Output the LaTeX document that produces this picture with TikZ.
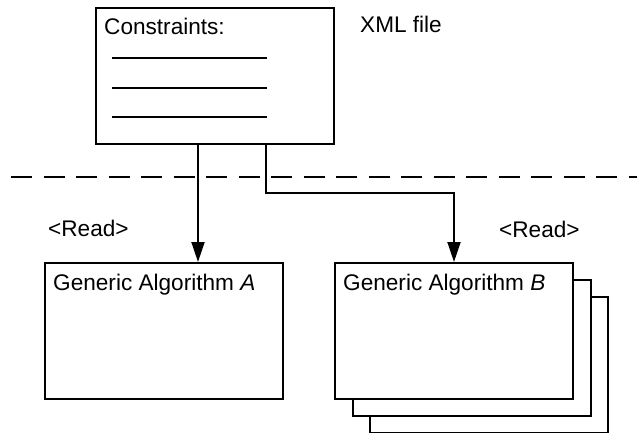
\documentclass[tikz,border=0pt]{standalone}
\usepackage{fontspec}
\setmainfont{Liberation Sans}
\usetikzlibrary{arrows.meta}
\begin{document}
\begin{tikzpicture}[x=1pt,y=-1pt,
  box/.style={draw, line width=1.9pt, fill=white, inner sep=0pt, anchor=north west},
  lbl/.style={inner sep=0pt, anchor=base west, font=\fontsize{22.6}{26}\selectfont},
  rule/.style={line width=1.4pt},
  conn/.style={line width=1.9pt, -{Triangle[length=20pt,width=13pt]}},
  sep/.style={line width=1.2pt, dash pattern=on 21pt off 11.5pt}]
\useasboundingbox (0,0) rectangle (637,433);
% top box
\node[box, minimum width=238pt, minimum height=136pt] (cons) at (95,7) {};
\node[lbl] (constxt) at (104,35) {Constraints:};
\node[lbl] (xml) at (360,33) {XML file};
\coordinate (r1a) at (112,58); \coordinate (r1b) at (267,58);
\coordinate (r2a) at (112,88); \coordinate (r2b) at (267,88);
\coordinate (r3a) at (112,117); \coordinate (r3b) at (267,117);
\draw[rule] (r1a) -- (r1b);
\draw[rule] (r2a) -- (r2b);
\draw[rule] (r3a) -- (r3b);
% separator
\coordinate (sepL) at (11,177); \coordinate (sepR) at (637,177);
\draw[sep] (sepL) -- (sepR);
% boxes
\node[box, minimum width=238pt, minimum height=136pt] (A) at (44,262) {};
\node[lbl] (Atxt) at (53,290) {Generic Algorithm \textit{A}};
\node[box, minimum width=238pt, minimum height=136pt] (B3) at (369,296) {};
\node[box, minimum width=238pt, minimum height=136pt] (B2) at (352,279) {};
\node[box, minimum width=238pt, minimum height=136pt] (B) at (334,262) {};
\node[lbl] (Btxt) at (343,290) {Generic Algorithm \textit{B}};
\node[lbl] (readA) at (48,236) {<Read>};
\node[lbl] (readB) at (499,237) {<Read>};
% connectors
\coordinate (c1) at (198,143);
\coordinate (c2) at (266,143);
\coordinate (c2b) at (266,193);
\coordinate (c2c) at (454,193);
\draw[conn] (c1) -- (c1 |- A.north);
\draw[conn] (c2) -- (c2b) -- (c2c) -- (c2c |- B.north);
\end{tikzpicture}
\end{document}
